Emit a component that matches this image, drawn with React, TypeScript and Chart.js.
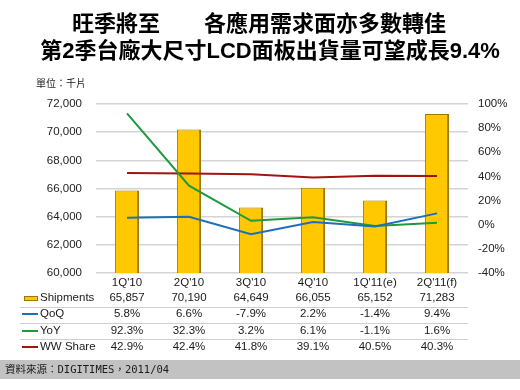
import React, { useEffect, useRef } from "react";
import { Chart, registerables } from "chart.js";

Chart.register(...registerables);

const titleLines = ["旺季將至　　各應用需求面亦多數轉佳", "第2季台廠大尺寸LCD面板出貨量可望成長9.4%"];
const unitLabel = "單位：千片";
const sourceText = "資料來源：DIGITIMES，2011/04";

const categories = ["1Q'10", "2Q'10", "3Q'10", "4Q'10", "1Q'11(e)", "2Q'11(f)"];
const shipments = [65857, 70190, 64649, 66055, 65152, 71283];
const qoq = [5.8, 6.6, -7.9, 2.2, -1.4, 9.4];
const yoy = [92.3, 32.3, 3.2, 6.1, -1.1, 1.6];
const wwShare = [42.9, 42.4, 41.8, 39.1, 40.5, 40.3];

const seriesNames = ["Shipments", "QoQ", "YoY", "WW Share"];
const colors = { bar: "#FFC800", barEdge: "#9A7800", qoq: "#1F6FB8", yoy: "#1E9A3C", ww: "#A01414" };

const fmtNum = (v: number) => v.toLocaleString("en-US");
const fmtPct = (v: number) => `${v.toFixed(1)}%`;

const overlayPlugin = {
  id: "overlay",
  afterDraw(chart: any) {
    const ctx = chart.ctx as CanvasRenderingContext2D;
    const x = chart.scales.x;
    const area = chart.chartArea;
    ctx.save();
    // title
    ctx.fillStyle = "#000";
    ctx.textAlign = "center";
    ctx.textBaseline = "middle";
    ctx.font = "bold 22px 'Liberation Sans', 'Noto Sans CJK TC', sans-serif";
    ctx.fillText(titleLines[0], 259, 25);
    ctx.fillText(titleLines[1], 270, 52);
    // unit
    ctx.font = "10px 'Noto Sans CJK TC', sans-serif";
    ctx.textAlign = "left";
    ctx.fillStyle = "#222";
    ctx.fillText(unitLabel, 36, 83);

    // table
    const rowY = [298, 314, 331, 347];
    const rows = [shipments.map(fmtNum), qoq.map(fmtPct), yoy.map(fmtPct), wwShare.map(fmtPct)];
    ctx.strokeStyle = "#cfcfcf";
    ctx.lineWidth = 1;
    [307, 323, 339].forEach((y) => {
      ctx.beginPath();
      ctx.moveTo(20, y + 0.5);
      ctx.lineTo(area.right, y + 0.5);
      ctx.stroke();
    });
    ctx.fillStyle = colors.bar;
    ctx.fillRect(24, rowY[0] - 2, 14, 5);
    ctx.strokeStyle = colors.barEdge;
    ctx.lineWidth = 1;
    ctx.strokeRect(24.5, rowY[0] - 1.5, 13, 4);
    const lineCols = [colors.qoq, colors.yoy, colors.ww];
    lineCols.forEach((c, i) => {
      ctx.strokeStyle = c;
      ctx.lineWidth = 2;
      ctx.beginPath();
      ctx.moveTo(22, rowY[i + 1]);
      ctx.lineTo(38, rowY[i + 1]);
      ctx.stroke();
    });
    ctx.font = "11.5px 'Liberation Sans', Arial, sans-serif";
    ctx.fillStyle = "#1a1a1a";
    ctx.textAlign = "left";
    seriesNames.forEach((n, i) => ctx.fillText(n, 40, rowY[i]));
    ctx.textAlign = "center";
    rows.forEach((r, ri) => {
      r.forEach((t, ci) => {
        ctx.fillText(t, x.getPixelForValue(ci), rowY[ri]);
      });
    });

    // footer
    ctx.fillStyle = "#c2c2c2";
    ctx.fillRect(0, 360, 520, 19);
    ctx.fillStyle = "#1a1a1a";
    ctx.textAlign = "left";
    ctx.font = "10.5px 'DejaVu Sans Mono', 'Noto Sans CJK TC', monospace";
    ctx.fillText(sourceText, 5, 370);
    ctx.restore();
  },
};

export default function App() {
  const ref = useRef<HTMLCanvasElement>(null);
  useEffect(() => {
    if (!ref.current) return;
    const chart = new Chart(ref.current, {
      data: {
        labels: categories,
        datasets: [
          { type: "line", label: "QoQ", data: qoq, yAxisID: "y1", borderColor: colors.qoq, borderWidth: 2, pointRadius: 0, order: 0 },
          { type: "line", label: "YoY", data: yoy, yAxisID: "y1", borderColor: colors.yoy, borderWidth: 2, pointRadius: 0, order: 0 },
          { type: "line", label: "WW Share", data: wwShare, yAxisID: "y1", borderColor: colors.ww, borderWidth: 2, pointRadius: 0, order: 0 },
          {
            type: "bar",
            label: "Shipments",
            data: shipments,
            yAxisID: "y",
            backgroundColor: colors.bar,
            borderColor: colors.barEdge,
            borderWidth: { left: 1, right: 2, top: 1, bottom: 0 },
            borderSkipped: false,
            barPercentage: 0.39,
            categoryPercentage: 1,
            order: 1,
          },
        ],
      } as any,
      options: {
        responsive: false,
        animation: false,
        layout: { padding: { top: 104, bottom: 97, left: 0, right: 0 } },
        plugins: { legend: { display: false }, tooltip: { enabled: false }, title: { display: false } },
        scales: {
          x: {
            grid: { display: false, drawTicks: false },
            border: { display: false },
            ticks: { color: "#1a1a1a", font: { family: "'Liberation Sans', Arial", size: 11.5 }, padding: 3, maxRotation: 0 },
            afterFit: (s: any) => { s.height = 20; },
          },
          y: {
            position: "left",
            min: 60000,
            max: 72000,
            ticks: {
              stepSize: 2000,
              color: "#222",
              font: { family: "'Liberation Sans', Arial", size: 11.5 },
              padding: 14,
              callback: (v: any) => fmtNum(Number(v)),
            },
            grid: { color: "#d4d4d4", drawTicks: false, lineWidth: 1.5 },
            border: { display: false },
            afterFit: (s: any) => { s.width = 96; },
          },
          y1: {
            position: "right",
            min: -40,
            max: 100,
            ticks: {
              stepSize: 20,
              color: "#222",
              font: { family: "'Liberation Sans', Arial", size: 11.5 },
              padding: 10,
              callback: (v: any) => `${v}%`,
            },
            grid: { display: false, drawTicks: false },
            border: { display: false },
            afterFit: (s: any) => { s.width = 52; },
          },
        },
      } as any,
      plugins: [overlayPlugin],
    });
    return () => chart.destroy();
  }, []);
  return (
    <div style={{ position: "fixed", left: 0, top: 0, width: 520, height: 390, background: "#fff" }}>
      <canvas ref={ref} width={520} height={390} />
    </div>
  );
}
